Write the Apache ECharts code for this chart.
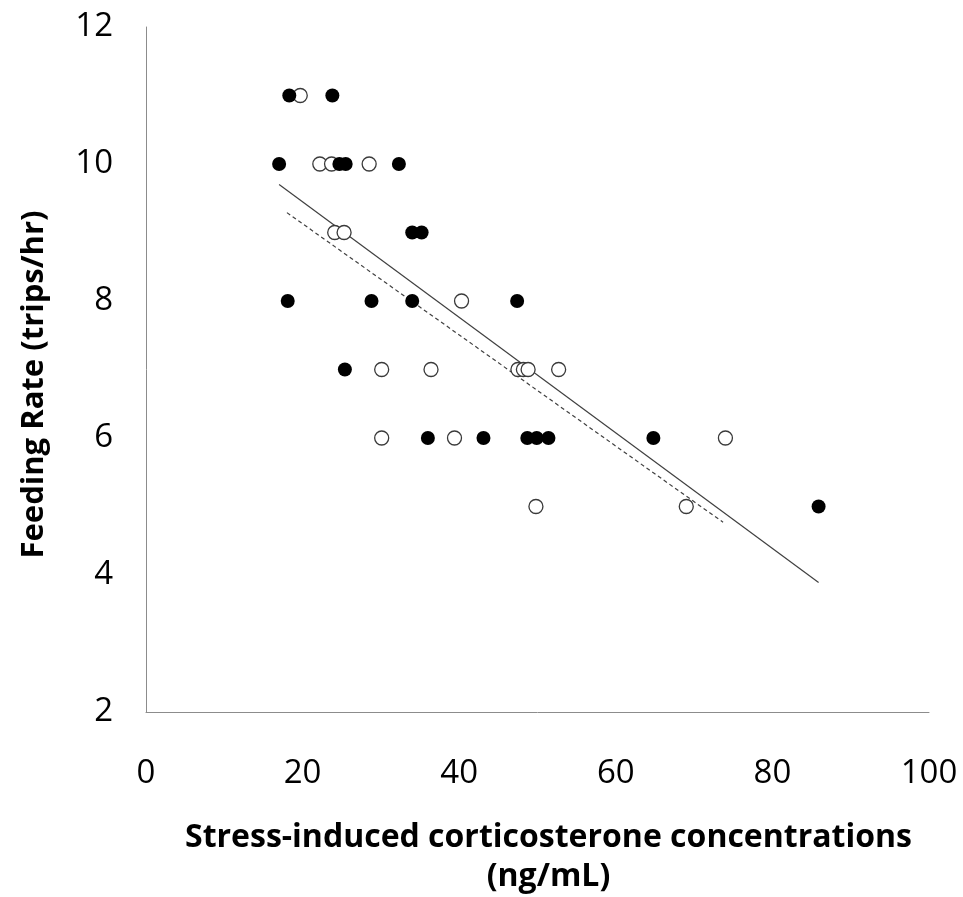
<!DOCTYPE html>
<html><head><meta charset="utf-8">
<script src="https://cdn.jsdelivr.net/npm/echarts@6/dist/echarts.min.js"></script>
<style>html,body{margin:0;padding:0;background:#fff}#c{width:963px;height:897px}</style>
</head><body><div id="c"></div>
<script>
// Filled circles (x: corticosterone ng/mL, y: trips/hr)
const filledX = [18.3, 23.8, 17.0, 24.7, 25.5, 32.3, 34.0, 35.2, 18.1, 28.8, 34.0, 47.4, 25.4, 36.0, 43.1, 48.7, 49.9, 51.4, 64.8, 85.9];
const filledY = [11, 11, 10, 10, 10, 10, 9, 9, 8, 8, 8, 8, 7, 6, 6, 6, 6, 6, 6, 5];
// Open circles
const openX = [19.7, 22.2, 23.7, 28.5, 24.1, 25.3, 40.3, 30.1, 36.4, 47.5, 48.2, 48.8, 52.7, 30.1, 39.4, 74.0, 49.8, 69.0];
const openY = [11, 10, 10, 10, 9, 9, 8, 7, 7, 7, 7, 7, 7, 6, 6, 6, 5, 5];
// Trend lines (endpoints)
const solidTrendX = [17.0, 85.9];
const solidTrendY = [9.70, 3.89];
const dashTrendX = [18.0, 73.7];
const dashTrendY = [9.29, 4.77];
const xTicks = [0, 20, 40, 60, 80, 100];
const yTicks = [2, 4, 6, 8, 10, 12];
const xTitle = 'Stress-induced corticosterone concentrations\n(ng/mL)';
const yTitle = 'Feeding Rate (trips/hr)';

const zip = (a, b) => a.map((v, i) => [v, b[i]]);
const chart = echarts.init(document.getElementById('c'), null, {renderer: 'canvas'});
const font = '"Open Sans", "DejaVu Sans", sans-serif';
chart.setOption({
  animation: false,
  backgroundColor: '#fff',
  grid: {left: 146, right: 34, top: 27, bottom: 185, outerBoundsMode: 'none', containLabel: false},
  xAxis: {
    type: 'value', min: 0, max: 100, interval: 20,
    axisLine: {show: true, lineStyle: {color: '#8c8c8c', width: 1}},
    axisTick: {show: false}, splitLine: {show: false},
    axisLabel: {fontFamily: font, fontSize: 33, color: '#000', margin: 45,
      formatter: v => xTicks.includes(v) ? String(v) : ''},
    name: xTitle, nameLocation: 'middle', nameGap: 106,
    nameTextStyle: {fontFamily: font, fontSize: 32, fontWeight: 'bold', color: '#000', lineHeight: 39,
      padding: [0, 0, 0, 22]}
  },
  yAxis: {
    type: 'value', min: 2, max: 12, interval: 2,
    axisLine: {show: true, lineStyle: {color: '#8c8c8c', width: 1}},
    axisTick: {show: false}, splitLine: {show: false},
    axisLabel: {fontFamily: font, fontSize: 33, color: '#000', margin: 33,
      formatter: v => yTicks.includes(v) ? String(v) : ''},
    name: yTitle, nameLocation: 'middle', nameGap: 96, nameRotate: 90,
    nameTextStyle: {fontFamily: font, fontSize: 31, fontWeight: 'bold', color: '#000',
      padding: [0, 30, 0, 0]}
  },
  series: [
    {type: 'line', data: zip(solidTrendX, solidTrendY), symbol: 'none', z: 1,
     lineStyle: {color: '#404040', width: 1.2, type: 'solid'}},
    {type: 'line', data: zip(dashTrendX, dashTrendY), symbol: 'none', z: 1,
     lineStyle: {color: '#404040', width: 1.2, type: [4, 3]}},
    {type: 'scatter', data: zip(openX, openY), symbol: 'circle', symbolSize: 14, z: 2,
     itemStyle: {color: '#fff', borderColor: '#3a3a3a', borderWidth: 1.3, opacity: 1}},
    {type: 'scatter', data: zip(filledX, filledY), symbol: 'circle', symbolSize: 14, z: 3,
     itemStyle: {color: '#000', borderColor: '#000', borderWidth: 0, opacity: 1}}
  ]
});
</script></body></html>
